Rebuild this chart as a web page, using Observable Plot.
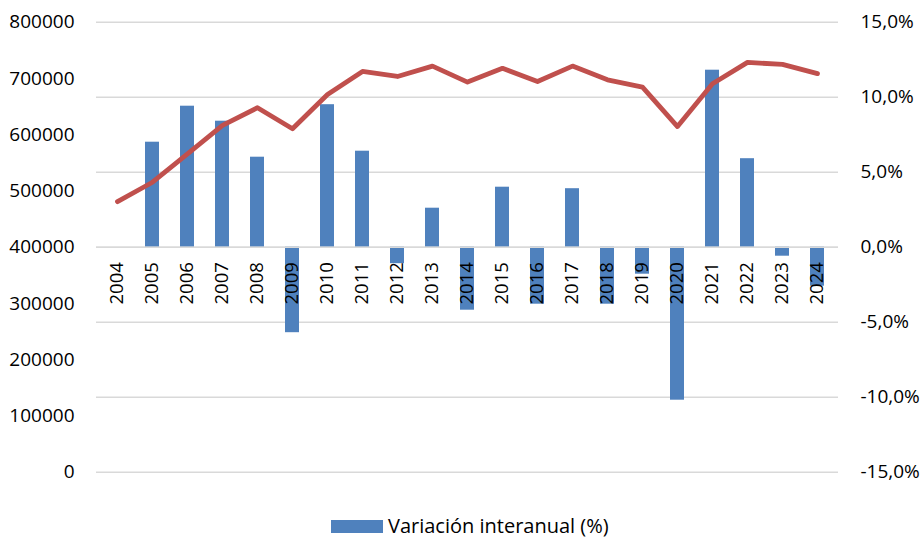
<!DOCTYPE html>
<html>
<head>
<meta charset="utf-8">
<script src="https://cdn.jsdelivr.net/npm/d3@7"></script>
<script src="https://cdn.jsdelivr.net/npm/@observablehq/plot@0.6"></script>
<style>
  html, body { margin: 0; padding: 0; background: #fff; }
  #wrap { position: relative; width: 921px; height: 538px; font-family: "Open Sans", sans-serif; }
  #chart { position: absolute; left: 0; top: 0; width: 921px; height: 505px; }
  #chart svg { position: absolute; left: 0; top: 0; background: transparent; }
  #legend { position: absolute; left: 331px; top: 516px; display: flex; align-items: center; gap: 5px; font-size: 20px; color: #000; line-height: 19px; }
  #legend .sw { width: 52px; height: 13px; background: #4F81BD; margin-top: 2px; }
</style>
</head>
<body>
<div id="wrap">
  <div id="chart"></div>
  <div id="legend"><span class="sw"></span><span>Variación interanual (%)</span></div>
</div>
<script>
const years = ["2004","2005","2006","2007","2008","2009","2010","2011","2012","2013","2014","2015","2016","2017","2018","2019","2020","2021","2022","2023","2024"];
const variation = [null, 7.0, 9.4, 8.4, 6.0, -5.7, 9.5, 6.4, -1.1, 2.6, -4.2, 4.0, -3.8, 3.9, -3.8, -1.8, -10.2, 11.8, 5.9, -0.6, -2.6];
const totals = [481000, 515500, 566000, 616500, 648000, 610500, 671500, 712500, 703500, 722000, 693500, 718000, 694500, 722000, 697500, 684500, 614500, 690500, 728500, 725000, 708500];
const rightTicks = [-15, -10, -5, 0, 5, 10, 15];
const leftTicks = [0, 100000, 200000, 300000, 400000, 500000, 600000, 700000, 800000];

const data = years.map((year, i) => ({year, pct: variation[i], total: totals[i]}));

const common = {
  width: 921, height: 505,
  marginLeft: 96, marginRight: 83, marginTop: 21.7, marginBottom: 33.3,
  x: {type: "band", domain: years, paddingInner: 0.6, paddingOuter: 0.3, axis: null},
  style: {fontFamily: "Open Sans", fontSize: "19px", color: "#000", background: "transparent", overflow: "visible"}
};

const pctFmt = d => d.toFixed(1).replace(".", ",") + "%";

const plotBars = Plot.plot({
  ...common,
  y: {domain: [-15, 15], axis: null},
  marks: [
    Plot.ruleY(rightTicks, {stroke: "#d9d9d9", strokeWidth: 1.4}),
    Plot.barY(data.filter(d => d.pct != null), {x: "year", y: "pct", fill: "#4F81BD"}),
    Plot.ruleY([0], {stroke: "#d9d9d9", strokeWidth: 1.4}),
    Plot.text(data, {x: "year", y: d => 0, text: "year", rotate: -90, textAnchor: "end", dy: 15, fontSize: 18.5, fill: "#000"}),
    Plot.text(rightTicks, {y: d => d, text: d => pctFmt(d), frameAnchor: "right", textAnchor: "start", dx: 22, fontSize: 19, fill: "#000"})
  ]
});

const plotLine = Plot.plot({
  ...common,
  y: {domain: [0, 800000], axis: null},
  marks: [
    Plot.lineY(data, {x: "year", y: "total", stroke: "#C0504D", strokeWidth: 4.8, strokeLinejoin: "round", strokeLinecap: "round"}),
    Plot.axisY({anchor: "left", ticks: leftTicks, tickFormat: d => String(d), tickSize: 0, tickPadding: 22, label: null, fontSize: 19})
  ]
});

const chart = document.getElementById("chart");
chart.appendChild(plotBars);
chart.appendChild(plotLine);
</script>
</body>
</html>
